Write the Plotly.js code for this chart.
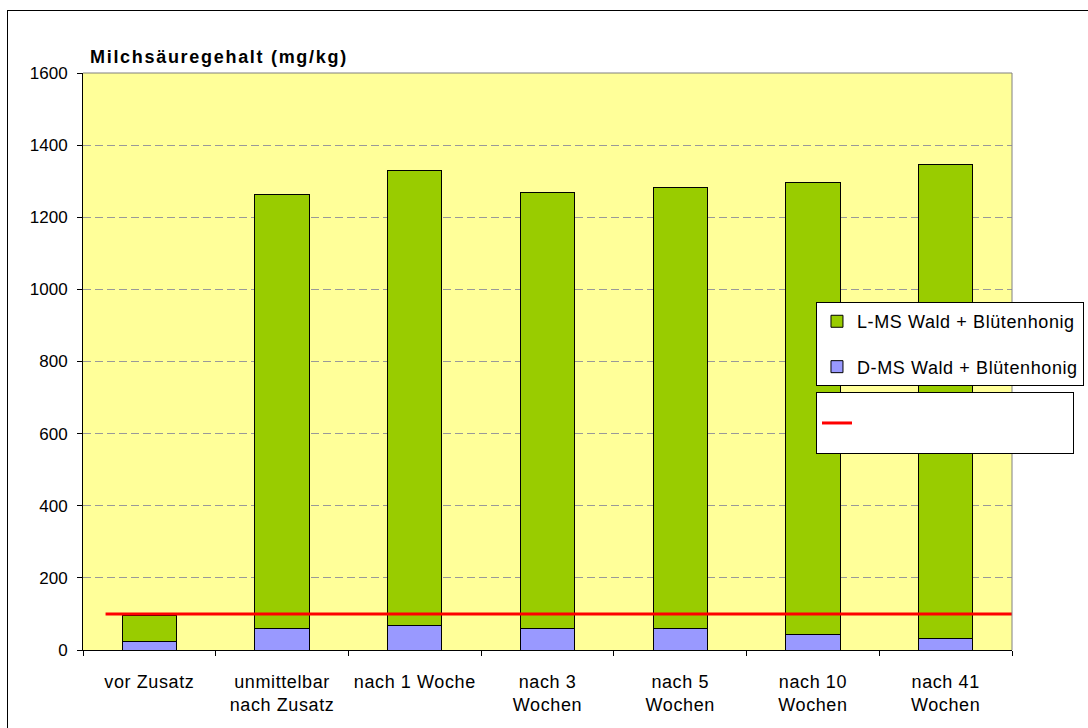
<!DOCTYPE html>
<html>
<head>
<meta charset="utf-8">
<script src="https://cdn.plot.ly/plotly-3.0.1.min.js"></script>
<style>
  body { margin: 0; background: #fff; }
  #chart { position: absolute; left: 0; top: 0; width: 1088px; height: 728px; }
  #frame { position: absolute; left: 7px; top: 10px; right: -2px; bottom: -2px;
           border-left: 1px solid #000; border-top: 1px solid #000; pointer-events: none; }
  .xtick text, .legendtext { letter-spacing: 0.6px; }
</style>
</head>
<body>
<div id="chart"></div>
<div id="frame"></div>
<script>
// chart data (mg/kg)
const categories = [
  'vor Zusatz',
  'unmittelbar<br>nach Zusatz',
  'nach 1 Woche',
  'nach 3<br>Wochen',
  'nach 5<br>Wochen',
  'nach 10<br>Wochen',
  'nach 41<br>Wochen'
];
const dMilchsaeure = [23, 59, 67, 60, 60, 44, 31];
const lMilchsaeure = [72, 1204, 1262, 1208, 1222, 1251, 1314];
const grenzwert = [100, 100];
const grenzwertX = [-0.33, 6.5];

const fontFam = '"Liberation Sans", Arial, sans-serif';

const traceD = {
  x: categories, y: dMilchsaeure, type: 'bar', name: 'D-MS Wald + Blütenhonig',
  marker: { color: '#9999FF', line: { color: '#000', width: 1 } },
  legendgroup: 'd', legendrank: 2
};
const traceL = {
  x: categories, y: lMilchsaeure, type: 'bar', name: 'L-MS Wald + Blütenhonig',
  marker: { color: '#99CC00', line: { color: '#000', width: 1 } },
  legendgroup: 'l', legendrank: 1
};
// red limit line, legend entry has no text (blank padding keeps box width)
const traceLimit = {
  x: grenzwertX, y: grenzwert, type: 'scatter', mode: 'lines',
  name: '\u00a0'.repeat(21),
  xaxis: 'x2', line: { color: '#FF0000', width: 3 }, legend: 'legend2'
};

const layout = {
  width: 1088, height: 728,
  margin: { l: 83, r: 76, t: 73, b: 78, autoexpand: false },
  paper_bgcolor: '#fff',
  plot_bgcolor: '#FFFF99',
  font: { family: fontFam, size: 17, color: '#000' },
  barmode: 'stack',
  bargap: 0.59,
  xaxis: {
    type: 'category', tickson: 'boundaries', ticks: 'outside', ticklen: 5,
    tickcolor: '#000', showline: true, linecolor: '#000', linewidth: 1,
    showgrid: false, ticklabelstandoff: 15, tickfont: { size: 18 }
  },
  xaxis2: { overlaying: 'x', range: [-0.5, 6.5], visible: false },
  yaxis: {
    range: [0, 1600], dtick: 200, ticks: 'outside', ticklen: 5, tickcolor: '#000',
    showline: true, linecolor: '#000', linewidth: 1,
    gridcolor: '#999999', griddash: '8px,4px', zeroline: false,
    ticklabelstandoff: 6, tickfont: { size: 17 }
  },
  shapes: [
    { type: 'line', xref: 'paper', yref: 'paper', x0: 0, x1: 1, y0: 1, y1: 1, line: { color: '#808080', width: 1 } },
    { type: 'line', xref: 'paper', yref: 'paper', x0: 1, x1: 1, y0: 0, y1: 1, line: { color: '#808080', width: 1 } }
  ],
  annotations: [{
    text: '<span style="letter-spacing:1.7px"><b>Milchsäuregehalt (mg/kg)</b></span>',
    xref: 'paper', yref: 'paper',
    x: 0.005, y: 1.028, xanchor: 'left', yanchor: 'middle', showarrow: false,
    font: { size: 18 }
  }],
  showlegend: true,
  legend: {
    x: 0.789, y: 0.603, xanchor: 'left', yanchor: 'top',
    bgcolor: '#fff', bordercolor: '#000', borderwidth: 1,
    traceorder: 'grouped', tracegroupgap: 19, font: { size: 18 }
  },
  legend2: {
    x: 0.789, y: 0.447, xanchor: 'left', yanchor: 'top',
    bgcolor: '#fff', bordercolor: '#000', borderwidth: 1,
    font: { size: 36 }
  }
};

Plotly.newPlot('chart', [traceD, traceL, traceLimit], layout, { displayModeBar: false, staticPlot: true });
</script>
</body>
</html>
